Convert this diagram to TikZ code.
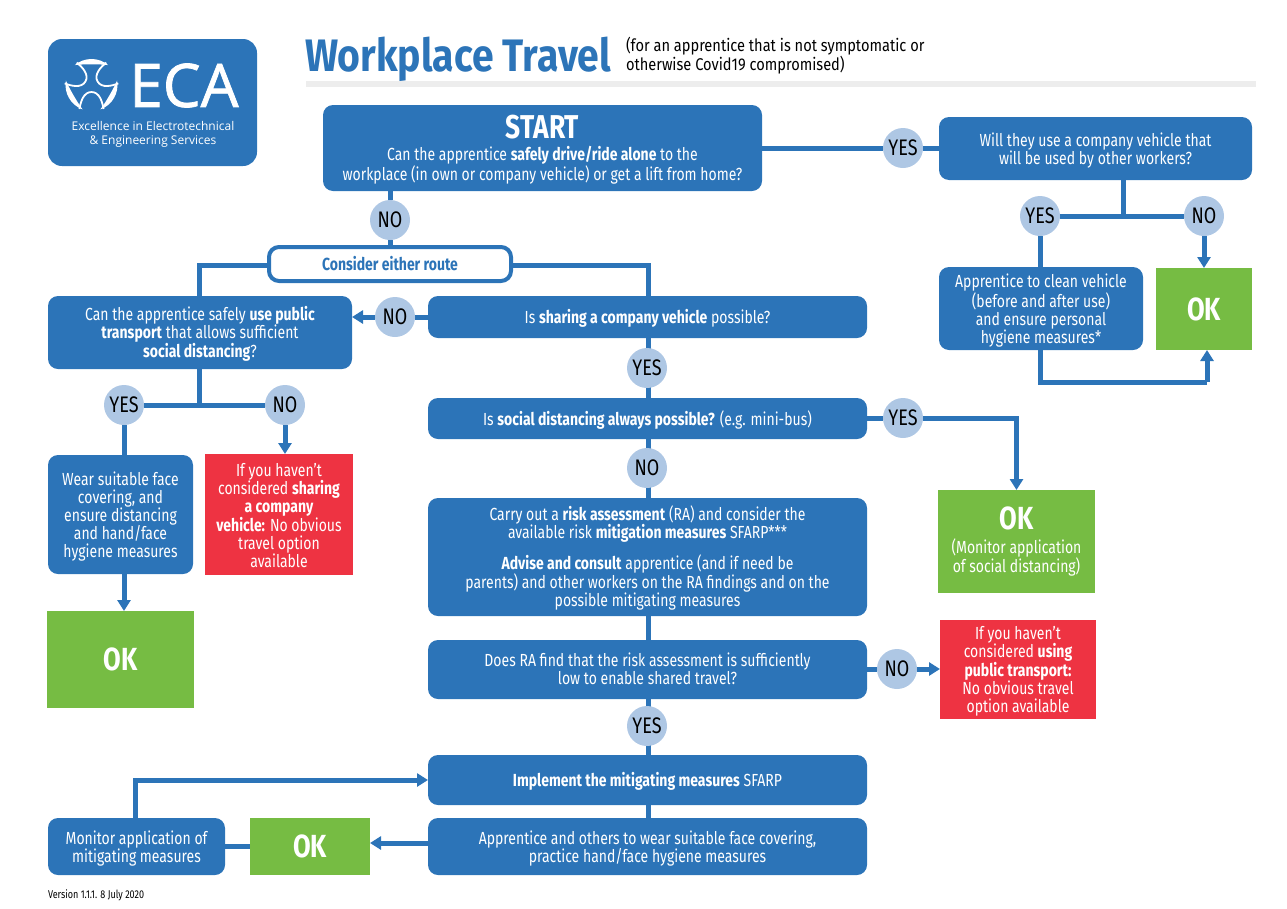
\documentclass[tikz,border=0pt]{standalone}
\usepackage{fontspec}
\setmainfont[FakeStretch=0.8]{Fira Sans}
\newfontfamily\widerfont[FakeStretch=0.86]{Fira Sans}
\newfontfamily\logofont[FakeBold=1.2]{Open Sans}
\newfontfamily\tagfont{Open Sans}
\usetikzlibrary{arrows.meta,backgrounds}
\definecolor{ecablue}{HTML}{2C74B8}
\definecolor{ecacirc}{HTML}{AEC7E4}
\definecolor{ecagreen}{HTML}{76BC43}
\definecolor{ecared}{HTML}{EE3342}
\definecolor{ecarule}{HTML}{EDEDED}
\newcommand{\bx}[7][]{\node[#6,minimum width=#4pt-#2pt,minimum height=#5pt-#3pt,#1] (#7) at ({(#2+#4)/2},{(#3+#5)/2})}
\newcommand{\bigok}{{\fontsize{32}{32}\selectfont\bfseries\rule{0pt}{23pt}OK}}
\newcommand{\fl}{\rule{0pt}{17.5pt}}
\tikzset{
 x=1pt,y=-1pt,
 base/.style={inner sep=0pt,outer sep=0pt,align=center,font=\fontsize{17.5}{18}\selectfont},
 boxtext/.style={execute at begin node={\rule{0pt}{17.5pt}},execute at end node={\rule[-4pt]{0pt}{4pt}}},
 bluebox/.style={base,boxtext,fill=ecablue,text=white,rounded corners=10pt},
 okbox/.style={base,fill=ecagreen,text=white},
 redbox/.style={base,boxtext,fill=ecared,text=white},
 routebox/.style={base,boxtext,fill=white,draw=ecablue,line width=4pt,rounded corners=10pt,text=ecablue,font=\fontsize{17.5}{18}\selectfont\bfseries},
 answer/.style={circle,fill=ecacirc,inner sep=0pt,outer sep=0pt,minimum size=40pt,text=black,font=\fontsize{22.5}{24}\selectfont},
 link/.style={draw=ecablue,line width=5pt},
 arrowlink/.style={link,-{Triangle[length=11pt,width=13pt]}},
}
\begin{document}
\begin{tikzpicture}
\useasboundingbox (0,0) rectangle (1287,908);
% logo
\bx{48}{39}{257}{166}{fill=ecablue,rounded corners=14pt}{logo} {};
\begin{scope}[x=1pt,y=1pt,shift={(91.5,-85)}]
\foreach \a in {0,120,240}{
 \begin{scope}[rotate=\a]
 \fill[white] (50:26) arc (50:130:26) .. controls (-8,21) and (8,21) .. (50:26) -- cycle;
 \draw[white,line width=1.8pt] (-12,-24) .. controls (-11,-17) and (-8,-7) .. (0,-7) .. controls (8,-7) and (11,-17) .. (12,-24);
 \end{scope}
}
\end{scope}
\node[base,text=white,font=\logofont\fontsize{60}{60}\selectfont] (ecaword) at (184,85.5) {ECA};
\node[base,text=white,font=\tagfont\fontsize{12}{14}\selectfont] (ecatag) at (153,134) {Excellence in Electrotechnical\\\& Engineering Services};
% title
\node[base,anchor=base west,text=ecablue,font=\widerfont\fontsize{45.5}{48}\selectfont\bfseries] (title) at (305,71) {Workplace Travel};
\node[base,anchor=north west,align=left,font=\widerfont\fontsize{17}{19}\selectfont] (subtitle) at (626,37) {(for an apprentice that is not symptomatic or\\otherwise Covid19 compromised)};
\bx{306}{81}{1256}{87}{fill=ecarule}{rule} {};
% boxes
\bx{323}{105}{762}{191}{bluebox}{start} {{\fontsize{33}{34}\selectfont\bfseries\rule{0pt}{27pt}START}\\[4pt]Can the apprentice \textbf{safely drive/ride alone} to the\\workplace (in own or company vehicle) or get a lift from home?};
\bx{939}{117}{1252}{180}{bluebox}{qvehicle} {\fl Will they use a company vehicle that\\will be used by other workers?};
\bx{269}{247}{511}{281}{routebox}{route} {Consider either route};
\bx{48}{296}{352}{369}{bluebox}{public} {\fl Can the apprentice safely \textbf{use public}\\\textbf{transport} that allows sufficient\\\textbf{social distancing}?};
\bx{428}{296}{867}{338}{bluebox}{share} {Is \textbf{sharing a company vehicle} possible?};
\bx{939}{267}{1143}{350}{bluebox}{clean} {\fl Apprentice to clean vehicle\\(before and after use)\\and ensure personal\\hygiene measures*};
\bx{1156}{268}{1252}{350}{okbox}{okclean} {\bigok};
\bx{428}{398}{867}{439}{bluebox}{social} {Is \textbf{social distancing always possible?} (e.g. mini-bus)};
\bx{48}{455}{193}{574}{bluebox}{face} {\fl Wear suitable face\\covering, and\\ensure distancing\\and hand/face\\hygiene measures};
\bx{205}{454}{353}{575}{redbox}{redshare} {\rule{0pt}{19pt}If you haven't\\considered \textbf{sharing}\\\textbf{a company}\\\textbf{vehicle:} No obvious\\travel option\\available};
\bx{47}{611}{194}{708}{okbox}{okface} {\bigok};
\bx{938}{490}{1095}{593}{okbox}{oksocial} {\bigok\\[6pt](Monitor application\\of social distancing)};
\bx{428}{498}{867}{616}{bluebox}{ra} {\fl Carry out a \textbf{risk assessment} (RA) and consider the\\available risk \textbf{mitigation measures} SFARP***\\[11pt]\textbf{Advise and consult} apprentice (and if need be\\parents) and other workers on the RA findings and on the\\possible mitigating measures};
\bx{428}{640}{867}{699}{bluebox}{does} {\rule{0pt}{16pt}Does RA find that the risk assessment is sufficiently\\low to enable shared travel?};
\bx{940}{620}{1096}{719}{redbox}{redpublic} {\fl If you haven't\\considered \textbf{using}\\\textbf{public transport:}\\No obvious travel\\option available};
\bx{428}{755}{867}{805}{bluebox}{implement} {\textbf{Implement the mitigating measures} SFARP};
\bx{428}{818}{867}{875}{bluebox}{wear} {\fl Apprentice and others to wear suitable face covering,\\practice hand/face hygiene measures};
\bx{250}{818}{370}{875}{okbox}{okwear} {\bigok};
\bx{48}{818}{225}{875}{bluebox}{monitor} {\fl Monitor application of\\mitigating measures};
\node[base,anchor=base west,font=\fontsize{11.3}{12}\selectfont] (version) at (48,898) {Version 1.1.1. 8 July 2020};
% answers
\node[answer] (yesA) at (903,148) {YES};
\node[answer] (noA) at (390,220) {NO};
\node[answer] (yesB) at (1040,216) {YES};
\node[answer] (noB) at (1204,216) {NO};
\node[answer] (noC) at (395,317) {NO};
\node[answer] (yesC) at (647,368) {YES};
\node[answer] (yesD) at (124,405) {YES};
\node[answer] (noD) at (285,405) {NO};
\node[answer] (yesE) at (903,418) {YES};
\node[answer] (noE) at (647,468) {NO};
\node[answer] (noF) at (897,669) {NO};
\node[answer] (yesF) at (647,726) {YES};
% connectors
\begin{scope}[on background layer]
\path[link] (start.east |- yesA) -- (yesA) -- (qvehicle.west |- yesA);
\path[link] (noA |- start.south) -- (noA) -- (noA |- route.north);
\coordinate (routeL) at (199,265);
\coordinate (routeR) at (648,265);
\path[link] (route.west |- routeL) -- (routeL) -- (routeL |- public.north);
\path[link] (route.east |- routeR) -- (routeR) -- (routeR |- share.north);
\path[link] (share.west |- noC) -- (noC);
\path[arrowlink] (noC) -- (public.east |- noC);
\path[link] (routeR |- share.south) -- (routeR |- yesC) -- (routeR |- social.north);
\path[link] (routeR |- social.south) -- (routeR |- noE) -- (routeR |- ra.north);
\path[link] (routeR |- ra.south) -- (routeR |- does.north);
\path[link] (routeR |- does.south) -- (routeR |- yesF) -- (routeR |- implement.north);
\path[link] (routeR |- implement.south) -- (routeR |- wear.north);
\path[link] (routeL |- public.south) -- (routeL |- yesD);
\path[link] (yesD) -- (noD);
\path[link] (yesD) -- (yesD |- face.north);
\path[arrowlink] (noD) -- (noD |- redshare.north);
\path[arrowlink] (yesD |- face.south) -- (yesD |- okface.north);
\path[link] (social.east |- yesE) -- (yesE);
\path[arrowlink] (yesE) -| (oksocial.north);
\path[link] (does.east |- noF) -- (noF);
\path[arrowlink] (noF) -- (redpublic.west |- noF);
\coordinate (wearY) at (400,843);
\path[arrowlink] (wear.west |- wearY) -- (okwear.east |- wearY);
\path[link] (okwear.west) -- (monitor.east);
\coordinate (monUp) at (135,780);
\path[arrowlink] (monUp |- monitor.north) -- (monUp) -- (implement.west |- monUp);
\coordinate (qDown) at (1123,216);
\path[link] (qDown |- qvehicle.south) -- (qDown);
\path[link] (yesB) -- (noB);
\path[link] (yesB) -- (yesB |- clean.north);
\path[arrowlink] (noB) -- (noB |- okclean.north);
\coordinate (cleanTurn) at (1040,382);
\coordinate (okTurn) at (1207,382);
\path[link] (cleanTurn |- clean.south) -- (cleanTurn) -- (okTurn);
\path[arrowlink] (okTurn) -- (okTurn |- okclean.south);
\end{scope}
\end{tikzpicture}
\end{document}
